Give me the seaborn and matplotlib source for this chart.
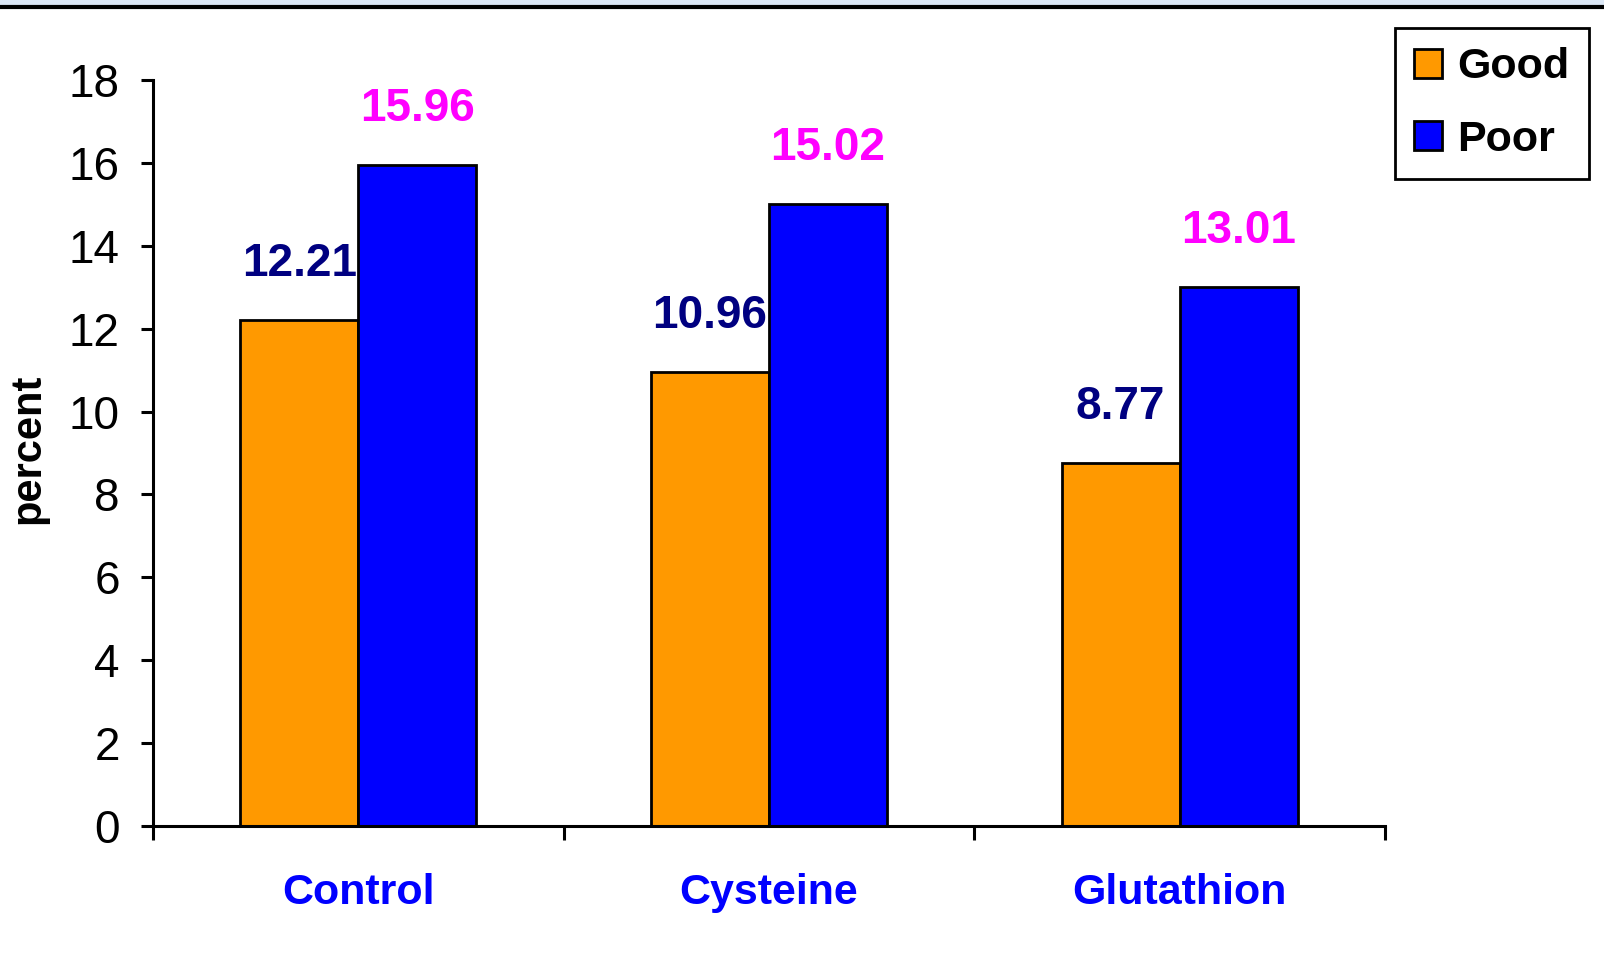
import matplotlib
matplotlib.use("Agg")
import matplotlib.pyplot as plt
import seaborn as sns
import pandas as pd
from matplotlib.patches import Rectangle
from matplotlib.lines import Line2D

categories = ["Control", "Cysteine", "Glutathion"]
good = [12.21, 10.96, 8.77]
poor = [15.96, 15.02, 13.01]
series = ["Good", "Poor"]
yticks = [0, 2, 4, 6, 8, 10, 12, 14, 16, 18]

df = pd.DataFrame({
    "category": categories * 2,
    "series": ["Good"] * 3 + ["Poor"] * 3,
    "value": good + poor,
})

sns.set_style("white")
plt.rcParams['font.family'] = ['Liberation Sans', 'DejaVu Sans']
plt.rcParams['text.color'] = 'black'
plt.rcParams['axes.labelcolor'] = 'black'
plt.rcParams['xtick.color'] = 'black'
plt.rcParams['ytick.color'] = 'black'

fig = plt.figure(figsize=(16.04, 9.61), dpi=100)
W, H = 1604, 961
ax = fig.add_axes([153 / W, 1 - 826 / H, (1385 - 153) / W, (826 - 80) / H])

palette = {"Good": "#FF9900", "Poor": "#0000FF"}
sns.barplot(data=df, x="category", y="value", hue="series", order=categories,
            hue_order=series, palette=palette, width=0.575, edgecolor="black",
            linewidth=2, saturation=1, ax=ax, legend=False)

ax.set_xlim(-0.5, 2.5)
ax.set_ylim(0, 18)
ax.set_yticks(yticks)
ax.set_yticklabels([str(t) for t in yticks], fontsize=33)
for s in ["top", "right"]:
    ax.spines[s].set_visible(False)
for s in ["left", "bottom"]:
    ax.spines[s].set_linewidth(2.2)
    ax.spines[s].set_color("black")
ax.tick_params(axis="y", length=9, width=2.2, direction="out", pad=15, left=True)

ax.set_xticks([-0.5, 0.5, 1.5, 2.5])
ax.set_xticklabels([])
ax.tick_params(axis="x", which="major", length=10, width=2.2, direction="out", bottom=True)
ax.set_xticks([0, 1, 2], minor=True)
ax.set_xticklabels(categories, minor=True, fontsize=31, fontweight="bold", color="#0000FF")
ax.tick_params(axis="x", which="minor", length=0, pad=34)
ax.set_xlabel("")
ax.set_ylabel("percent", fontsize=30, fontweight="bold", va="center")
ax.yaxis.set_label_coords(-(153 - 28) / 1232, 0.505)

label_colors = {"Good": "#000080", "Poor": "#FF00FF"}
for container, name in zip(ax.containers, series):
    for bar in container:
        h = bar.get_height()
        ax.annotate(f"{h:.2f}", (bar.get_x() + bar.get_width() / 2, h),
                    xytext=(0, 40), textcoords="offset points", ha="center", va="center",
                    fontsize=33, fontweight="bold", color=label_colors[name])

handles = [Rectangle((0, 0), 1, 1, facecolor=palette[s], edgecolor="black", linewidth=2) for s in series]
leg = fig.legend(handles, series, loc="upper right", bbox_to_anchor=(1589 / W, 1 - 28 / H),
                 prop={"weight": "bold", "size": 31}, frameon=True, fancybox=False,
                 framealpha=1, edgecolor="black", handlelength=0.65, handleheight=0.65,
                 handletextpad=0.35, labelspacing=0.75, borderpad=0.45, borderaxespad=0)
leg.get_frame().set_linewidth(2)
for t in leg.get_texts():
    t.set_color("black")

# top decoration strip
fig.add_artist(Rectangle((0, 1 - 5 / H), 1, 5 / H, transform=fig.transFigure,
                         facecolor="#DCE8F6", edgecolor="none"))
fig.add_artist(Line2D([0, 1], [1 - 7 / H, 1 - 7 / H], transform=fig.transFigure,
                      color="black", linewidth=3))

fig.savefig("out.png", dpi=100)
